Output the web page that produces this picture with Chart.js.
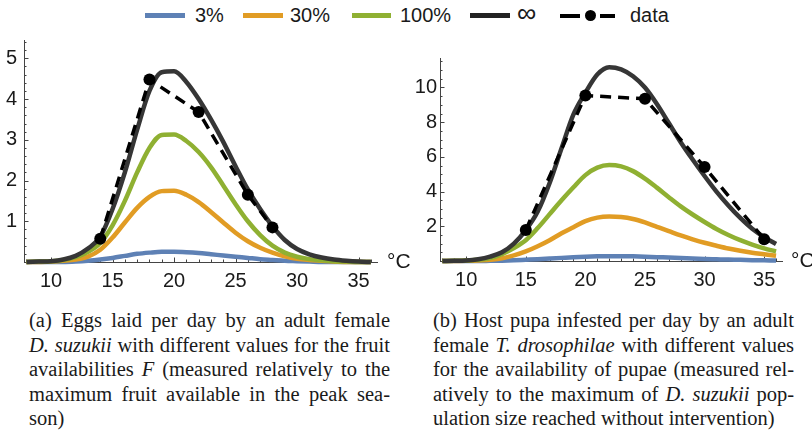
<!DOCTYPE html>
<html>
<head>
<meta charset="utf-8">
<script src="https://cdn.jsdelivr.net/npm/chart.js@4/dist/chart.umd.min.js"></script>
<style>
  body{margin:0;background:#fff;width:812px;height:437px;position:relative;overflow:hidden;font-family:"Liberation Sans",Arial,sans-serif;color:#1a1a1a;}
  canvas{position:absolute;}
  .leg{position:absolute;font-size:20px;line-height:20px;top:5px;}
  .mk{position:absolute;height:5px;top:13px;}
  .unit{position:absolute;font-size:21px;}
  .cap{position:absolute;top:308px;width:361px;font-family:"Liberation Serif","Times New Roman",serif;font-size:20.5px;line-height:24.5px;}
  .cap div{text-align:justify;text-align-last:justify;white-space:nowrap;}
  .cap div.last{text-align-last:left;}
</style>
</head>
<body>
<!-- legend, shared by both panels -->
<div class="mk" style="left:145px;width:40px;background:#5E81B5"></div><div class="leg" style="left:195px">3%</div>
<div class="mk" style="left:243px;width:40px;background:#E19C24"></div><div class="leg" style="left:290px">30%</div>
<div class="mk" style="left:352px;width:39px;background:#8FB032"></div><div class="leg" style="left:400px">100%</div>
<div class="mk" style="left:470px;width:40px;background:#222"></div><div class="leg" style="left:517px;font-size:27px;top:3px">∞</div>
<div class="mk" style="left:560px;width:20px;background:#000;height:4px;top:14px"></div>
<div class="mk" style="left:585px;width:11px;height:11px;top:10px;border-radius:50%;background:#000"></div>
<div class="mk" style="left:600px;width:15px;background:#000;height:4px;top:14px"></div>
<div class="leg" style="left:630px">data</div>

<canvas id="chart-eggs" width="400" height="292" style="left:0;top:0"></canvas>
<canvas id="chart-pupa" width="407" height="291" style="left:405px;top:0"></canvas>
<div class="unit" style="left:387px;top:249px">°C</div>
<div class="unit" style="left:791px;top:248px">°C</div>

<div class="cap" style="left:29px">
  <div>(a) Eggs laid per day by an adult female</div>
  <div><i>D. suzukii</i> with different values for the fruit</div>
  <div>availabilities <i>F</i> (measured relatively to the</div>
  <div>maximum fruit available in the peak sea-</div>
  <div class="last">son)</div>
</div>
<div class="cap" style="left:433px">
  <div>(b) Host pupa infested per day by an adult</div>
  <div>female <i>T. drosophilae</i> with different values</div>
  <div>for the availability of pupae (measured rel-</div>
  <div>atively to the maximum of <i>D. suzukii</i> pop-</div>
  <div class="last">ulation size reached without intervention)</div>
</div>

<script>
// temperatures (°C) the curves are sampled at
const temps = [8,9,10,11,12,13,14,15,16,17,18,19,20,21,22,23,24,25,26,27,28,29,30,31,32,33,34,35,36];

// (a) eggs per day, one list per fruit availability
const eggs3   = [0,0,0,0,0.01,0.03,0.06,0.1,0.15,0.2,0.23,0.25,0.25,0.24,0.22,0.19,0.16,0.13,0.1,0.07,0.05,0.03,0.02,0.01,0,0,0,0,0];
const eggs30  = [0,0,0.01,0.03,0.06,0.13,0.3,0.6,0.97,1.33,1.6,1.74,1.75,1.65,1.47,1.23,0.97,0.72,0.51,0.35,0.23,0.14,0.08,0.05,0.03,0.01,0,0,0];
const eggs100 = [0,0.01,0.02,0.05,0.12,0.25,0.47,0.9,1.5,2.2,2.8,3.12,3.13,2.97,2.7,2.33,1.88,1.42,1.0,0.66,0.4,0.23,0.13,0.07,0.04,0.02,0.01,0,0];
const eggsInf = [0,0.01,0.02,0.06,0.15,0.33,0.62,1.3,2.2,3.25,4.2,4.66,4.68,4.42,4.0,3.5,2.95,2.35,1.78,1.3,0.88,0.54,0.32,0.19,0.11,0.06,0.03,0.01,0];
const eggDataT = [14,18,22,26,28];
const eggDataV = [0.57,4.48,3.68,1.65,0.85];

// (b) host pupae infested per day
const pupa3   = [0,0,0,0,0.01,0.02,0.04,0.07,0.1,0.14,0.18,0.22,0.25,0.27,0.28,0.28,0.27,0.25,0.22,0.2,0.17,0.15,0.12,0.1,0.08,0.07,0.05,0.04,0.03];
const pupa30  = [0,0,0.01,0.03,0.07,0.15,0.32,0.55,0.85,1.2,1.6,1.95,2.3,2.5,2.56,2.53,2.42,2.22,1.97,1.72,1.47,1.25,1.05,0.88,0.72,0.59,0.48,0.39,0.3];
const pupa100 = [0,0.01,0.03,0.07,0.17,0.4,0.75,1.2,1.9,2.7,3.5,4.25,4.95,5.38,5.53,5.45,5.18,4.75,4.23,3.68,3.15,2.68,2.25,1.85,1.5,1.2,0.95,0.73,0.55];
const pupaInf = [0,0.01,0.03,0.1,0.25,0.5,1.0,1.78,2.85,4.5,6.5,8.45,9.7,10.75,11.17,11.05,10.65,10.0,9.05,7.95,6.85,5.85,4.9,4.0,3.2,2.48,1.86,1.38,0.98];
const pupaDataT = [15,20,25,30,35];
const pupaDataV = [1.78,9.54,9.35,5.42,1.25];

const tickFont = { family: '"Liberation Sans", Arial, sans-serif', size: 20 };

// Mathematica style ticks pointing into the plot
const innerTicks = {
  id: 'innerTicks',
  beforeDatasetsDraw(chart, args, o){
    const {ctx, scales:{x, y}} = chart;
    ctx.save();
    ctx.strokeStyle = '#444';
    ctx.lineWidth = 1;
    const seg = (x1,y1,x2,y2)=>{ ctx.beginPath(); ctx.moveTo(x1,y1); ctx.lineTo(x2,y2); ctx.stroke(); };
    for(let v = Math.ceil(x.min); v <= x.max; v++){
      const px = Math.round(x.getPixelForValue(v)) + 0.5;
      seg(px, y.bottom, px, y.bottom - (v % 5 === 0 ? 4.5 : 2.5));
    }
    for(let i = 1; i * o.yMinor <= y.max; i++){
      const v = i * o.yMinor;
      const major = Math.abs(v / o.yMajor - Math.round(v / o.yMajor)) < 1e-6;
      const py = Math.round(y.getPixelForValue(v)) + 0.5;
      seg(x.left, py, x.left + (major ? 4.5 : 2.5), py);
    }
    ctx.restore();
  }
};

function curve(label, vals, color, order){
  return {
    label, order,
    data: temps.map((t,i)=>({x:t, y:vals[i]})),
    borderColor: color, borderWidth: 4.5,
    pointRadius: 0, cubicInterpolationMode: 'monotone', fill: false, clip: 8
  };
}
function measured(ts, vs){
  return {
    label: 'data', order: 0,
    data: ts.map((t,i)=>({x:t, y:vs[i]})),
    borderColor: '#000', borderWidth: 3.5, borderDash: [11,7],
    pointRadius: 6, pointBackgroundColor: '#000', pointBorderWidth: 0,
    tension: 0, fill: false, clip: 8
  };
}

function makeChart(id, sets, dataT, dataV, cfg){
  return new Chart(document.getElementById(id), {
    type: 'line',
    data: { datasets: [
      measured(dataT, dataV),
      curve('∞', sets[3], '#363636', 1),
      curve('100%', sets[2], '#8FB032', 2),
      curve('30%', sets[1], '#E19C24', 3),
      curve('3%', sets[0], '#5E81B5', 4)
    ]},
    options: {
      responsive: false,
      animation: false,
      layout: { padding: { left: 0, right: cfg.padRight, top: cfg.padTop, bottom: 0 } },
      plugins: {
        legend: { display: false },
        tooltip: { enabled: false },
        innerTicks: { yMinor: cfg.yMinor, yMajor: cfg.yStep }
      },
      scales: {
        x: {
          type: 'linear', min: 7.8, max: 36.5,
          afterFit: s => { s.height = 30; },
          grid: { display: false, drawTicks: false },
          border: { display: true, color: '#444', width: 1 },
          ticks: { stepSize: 5, includeBounds: false, font: tickFont, color: '#1a1a1a', padding: 7, maxRotation: 0 }
        },
        y: {
          min: 0, max: cfg.yMax,
          afterFit: s => { s.width = cfg.yWidth; },
          grid: { display: false, drawTicks: false },
          border: { display: true, color: '#444', width: 1 },
          ticks: { stepSize: cfg.yStep, includeBounds: false, font: tickFont, color: '#1a1a1a', padding: cfg.yPad,
                   callback: v => v === 0 ? '' : v }
        }
      }
    },
    plugins: [innerTicks]
  });
}

makeChart('chart-eggs', [eggs3, eggs30, eggs100, eggsInf], eggDataT, eggDataV,
  { yMax: 5.45, yStep: 1, yMinor: 0.2, yWidth: 24, yPad: 7, padRight: 23, padTop: 40 });
makeChart('chart-pupa', [pupa3, pupa30, pupa100, pupaInf], pupaDataT, pupaDataV,
  { yMax: 11.7, yStep: 2, yMinor: 0.5, yWidth: 35, yPad: 3, padRight: 30, padTop: 58 });
</script>
</body>
</html>
